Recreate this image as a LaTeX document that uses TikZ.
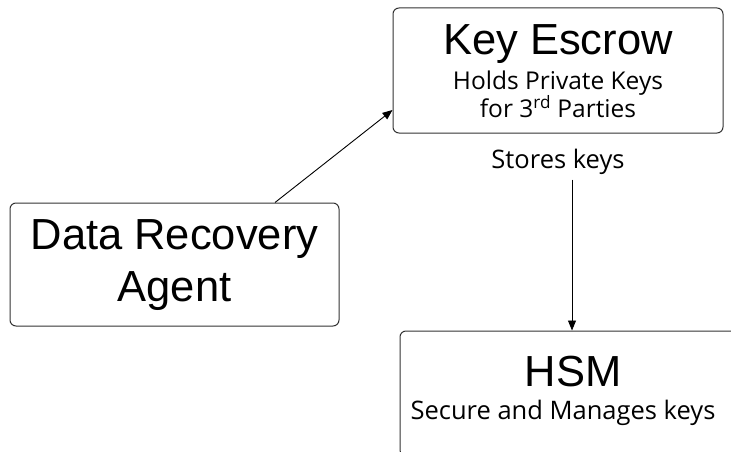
\documentclass[tikz,border=0pt]{standalone}
\usepackage{fontspec}
\setmainfont{Liberation Sans}
\newfontfamily\notefont{Open Sans}
\usetikzlibrary{positioning,arrows.meta}

\tikzset{
    box/.style={rectangle, rounded corners=6pt, draw=black!80, line width=1pt, inner sep=0pt},
    title/.style={font=\fontsize{43.5}{51.7}\selectfont, align=center, inner sep=0pt, anchor=base},
    note/.style={font=\notefont\fontsize{25.5}{26}\selectfont, inner sep=0pt, anchor=base},
    link/.style={-{Triangle[length=10pt,width=8pt]}, line width=0.9pt}
}

\begin{document}
\begin{tikzpicture}[x=1pt,y=-1pt]
    \useasboundingbox (0,0) rectangle (731,452);
    \node (escrow) [box, minimum width=330pt, minimum height=125pt] at (558,70.5) {};
    \node (escrowtitle) [title] at ([yshift=-47pt]escrow.north) {Key Escrow};
    \node (escrownote) [note, font=\notefont\fontsize{24.5}{26}\selectfont] at ([yshift=-82pt]escrow.north) {Holds Private Keys};
    \node (escrowparty) [note, font=\notefont\fontsize{24.5}{26}\selectfont] at ([yshift=-110pt]escrow.north) {for 3\textsuperscript{rd} Parties};
    \node (dra) [box, minimum width=329pt, minimum height=123pt] at (174.5,264.5) {};
    \node (dratitle) [title] at ([yshift=-98.7pt]dra.north) {Data Recovery\\Agent};
    \node (hsm) [box, minimum width=336pt, minimum height=125pt] at (568,393.5) {};
    \node (hsmtitle) [title] at ([xshift=5pt,yshift=-56pt]hsm.north) {HSM};
    \node (hsmnote) [note] at ([xshift=-5pt,yshift=-89pt]hsm.north) {Secure and Manages keys};
    \node (stores) [note] at ([yshift=-35pt]escrow.south) {Stores keys};
    \coordinate (hsmin) at ([xshift=4pt]hsm.north);
    \draw[link] ([xshift=100.5pt]dra.north) -- ([yshift=-39.5pt]escrow.west);
    \draw[link] ([yshift=-46pt]escrow.south -| hsmin) -- (hsmin);
\end{tikzpicture}
\end{document}
